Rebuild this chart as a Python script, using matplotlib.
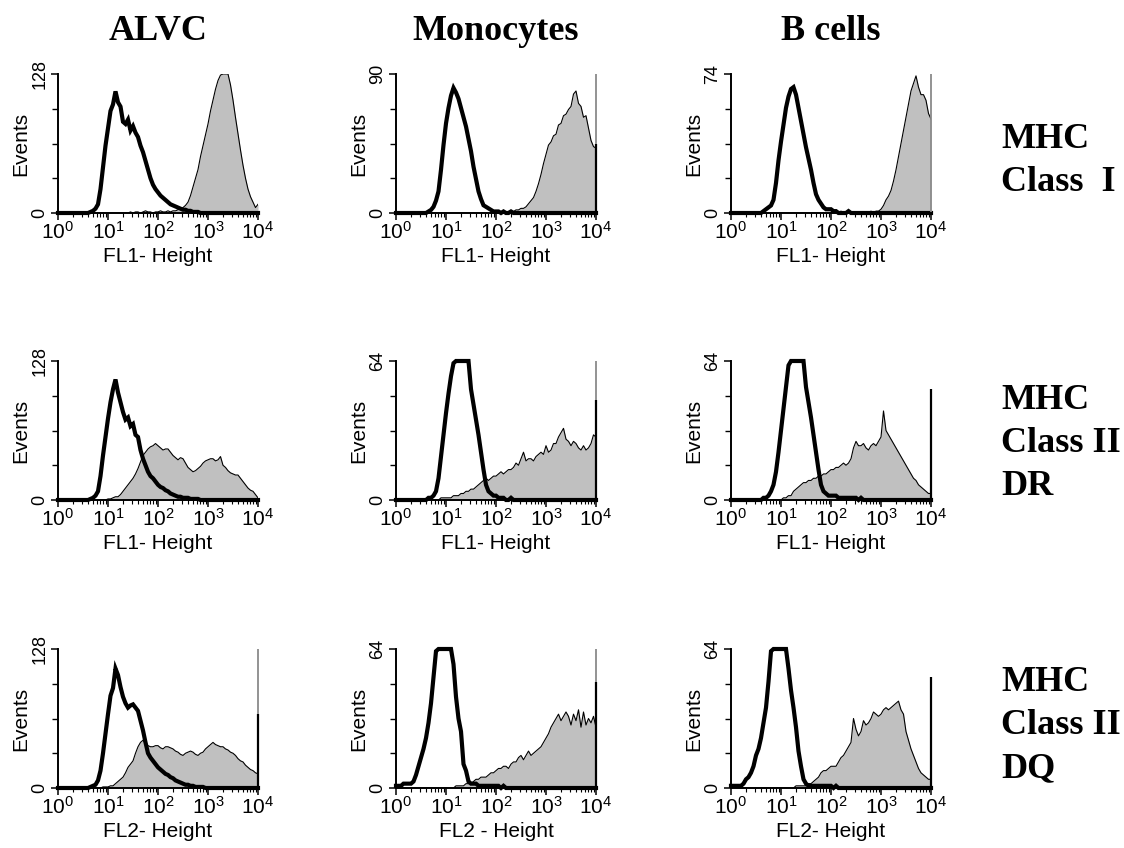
import numpy as np
import matplotlib
matplotlib.use("Agg")
import matplotlib.pyplot as plt
from matplotlib.ticker import FixedLocator, LogLocator, NullFormatter

plt.rcParams['font.family'] = 'Liberation Sans'
plt.rcParams['mathtext.fontset'] = 'custom'
plt.rcParams['mathtext.rm'] = 'Liberation Sans'
plt.rcParams['mathtext.it'] = 'Liberation Sans'
plt.rcParams['mathtext.bf'] = 'Liberation Sans:bold'

# histogram channels: 81 bins, 0.05 decade apart, from 10^0 to 10^4
channels = 10 ** (np.arange(81) * 0.05)

# --- row 1: MHC class I ---
alvc_mhc1_iso = ([0] * 10 +
    [0, 0, 0, 1, 2, 4, 8, 22, 42, 62] +
    [78, 94, 100, 112, 102, 98, 84, 82, 86, 76] +
    [80, 74, 70, 62, 56, 48, 40, 32, 26, 22] +
    [19, 16, 14, 12, 10, 8, 7, 6, 5, 4] +
    [3, 3, 2, 2, 1, 1, 1, 0, 0, 0] +
    [0] * 10 + [0] * 10 + [0])
alvc_mhc1_pos = ([0] * 10 + [0] * 10 +
    [0, 0, 0, 0, 0, 0, 0, 0, 0, 1] +
    [0, 1, 1, 0, 1, 2, 1, 1, 0, 1] +
    [1, 2, 1, 1, 2, 1, 2, 2, 3, 4] +
    [5, 7, 10, 16, 24, 32, 40, 52, 62, 72] +
    [82, 94, 104, 114, 122, 127, 130, 131, 128, 118] +
    [104, 88, 73, 58, 44, 32, 22, 15, 10, 5] +
    [8])

mono_mhc1_iso = ([0] * 10 +
    [0, 0, 0, 1, 2, 4, 8, 14, 28, 44] +
    [58, 68, 76, 81, 78, 74, 68, 62, 56, 48] +
    [40, 30, 22, 14, 9, 5, 4, 3, 2, 1] +
    [1, 1, 0, 1, 0, 0, 1, 0, 0, 0] +
    [0] * 10 + [0] * 10 + [0] * 10 + [0])
mono_mhc1_pos = ([0] * 10 + [0] * 10 + [0] * 10 + [0] * 10 +
    [0, 0, 0, 0, 0, 1, 1, 1, 2, 2] +
    [3, 3, 4, 6, 8, 10, 14, 19, 25, 32] +
    [38, 44, 46, 50, 51, 57, 58, 63, 64, 67] +
    [69, 77, 79, 71, 69, 62, 63, 55, 47, 43] +
    [42])

bcell_mhc1_iso = ([0] * 10 +
    [0, 0, 0, 1, 2, 3, 4, 7, 16, 28] +
    [38, 47, 56, 62, 66, 67, 63, 56, 49, 42] +
    [35, 29, 23, 16, 10, 7, 5, 3, 2, 2] +
    [2, 1, 1, 0, 0, 0, 0, 1, 0, 0] +
    [0] * 10 + [0] * 10 + [0] * 10 + [0])
bcell_mhc1_pos = ([0] * 10 + [0] * 10 + [0] * 10 + [0] * 10 +
    [0, 1, 0, 0, 1, 0, 0, 1, 0, 0] +
    [0, 0, 0, 0, 0, 0, 1, 0, 1, 1] +
    [2, 4, 7, 9, 12, 17, 23, 30, 37, 44] +
    [51, 58, 65, 69, 73, 67, 63, 63, 60, 53] +
    [50])

# --- row 2: MHC class II DR ---
alvc_dr_iso = ([0] * 10 +
    [0, 0, 0, 1, 2, 4, 8, 22, 41, 58] +
    [75, 90, 102, 111, 99, 90, 81, 74, 76, 68] +
    [70, 60, 58, 46, 38, 32, 26, 22, 20, 17] +
    [14, 12, 11, 9, 8, 6, 5, 4, 3, 3] +
    [2, 2, 2, 1, 1, 1, 1, 0, 0, 0] +
    [0] * 10 + [0] * 10 + [0])
alvc_dr_pos = ([0] * 10 + [0] * 10 +
    [1, 1, 2, 3, 3, 5, 8, 11, 14, 17] +
    [20, 24, 29, 35, 41, 44, 47, 49, 50, 52] +
    [50, 48, 46, 47, 47, 44, 41, 39, 37, 39] +
    [38, 34, 30, 28, 26, 27, 29, 31, 34, 36] +
    [37, 38, 38, 36, 37, 40, 32, 30, 27, 25] +
    [24, 23, 23, 20, 17, 14, 11, 9, 8, 5] +
    [2])

mono_dr_iso = ([0] * 10 +
    [0, 0, 0, 1, 1, 2, 4, 10, 20, 30] +
    [40, 49, 57, 63, 68, 70, 72, 71, 70, 67] +
    [51, 44, 37, 30, 22, 14, 7, 4, 3, 2] +
    [2, 1, 1, 1, 0, 0, 1, 0, 0, 0] +
    [0] * 10 + [0] * 10 + [0] * 10 + [0])
mono_dr_pos = ([0] * 10 +
    [0, 0, 0, 0, 0, 0, 0, 0, 1, 1] +
    [1, 1, 1, 2, 2, 2, 3, 3, 4, 4] +
    [5, 5, 6, 7, 8, 9, 10, 9, 10, 11] +
    [11, 12, 13, 12, 13, 14, 14, 15, 17, 16] +
    [19, 22, 18, 19, 19, 18, 20, 21, 22, 21] +
    [25, 22, 23, 26, 26, 29, 31, 33, 28, 27] +
    [25, 27, 26, 24, 23, 25, 23, 24, 26, 30] +
    [29])

bcell_dr_iso = ([0] * 10 +
    [0, 0, 0, 1, 1, 2, 4, 7, 13, 22] +
    [32, 42, 52, 62, 68, 70, 71, 70, 69, 67] +
    [52, 45, 38, 30, 22, 14, 7, 4, 3, 2] +
    [2, 2, 2, 1, 1, 1, 1, 1, 1, 1] +
    [1, 0, 1, 0, 0, 0, 0, 0, 0, 0] +
    [0] * 10 + [0] * 10 + [0])
bcell_dr_pos = ([0] * 10 + [0] * 10 +
    [0, 1, 1, 2, 2, 4, 5, 6, 7, 8] +
    [8, 9, 9, 10, 10, 11, 11, 12, 12, 13] +
    [14, 14, 15, 15, 16, 17, 16, 17, 19, 24] +
    [27, 25, 25, 26, 24, 23, 25, 26, 25, 27] +
    [29, 41, 32, 30, 28, 26, 24, 22, 20, 18] +
    [16, 14, 12, 10, 9, 7, 6, 5, 4, 3] +
    [3])

# --- row 3: MHC class II DQ ---
alvc_dq_iso = ([0] * 10 +
    [0, 0, 0, 1, 2, 3, 7, 16, 32, 50] +
    [68, 85, 92, 110, 104, 93, 84, 78, 74, 76] +
    [77, 74, 71, 62, 53, 42, 32, 28, 25, 22] +
    [19, 17, 15, 13, 12, 10, 9, 7, 6, 5] +
    [4, 3, 3, 2, 2, 1, 1, 1, 1, 0] +
    [0] * 10 + [0] * 10 + [0])
alvc_dq_pos = ([0] * 10 +
    [0, 0, 0, 0, 0, 0, 0, 0, 1, 1] +
    [1, 2, 2, 4, 6, 8, 10, 14, 19, 22] +
    [25, 32, 38, 42, 44, 41, 39, 38, 38, 39] +
    [39, 37, 36, 38, 38, 37, 36, 34, 33, 31] +
    [30, 32, 33, 34, 33, 31, 30, 32, 33, 36] +
    [38, 40, 42, 40, 39, 38, 38, 36, 35, 33] +
    [32, 30, 27, 25, 24, 21, 19, 17, 16, 14] +
    [13])

mono_dq_iso = ([1, 1, 1, 2, 2, 2, 2, 3, 6, 10] +
    [14, 18, 23, 30, 39, 51, 63, 70, 72, 72] +
    [72, 72, 70, 57, 42, 32, 26, 11, 8, 3] +
    [2, 2, 2, 1, 1, 1, 1, 1, 1, 1] +
    [1, 1, 0, 1, 0, 0, 0, 0, 0, 0] +
    [0] * 10 + [0] * 10 + [0] * 10 + [0])
mono_dq_pos = ([0] * 10 + [0] * 10 +
    [0, 0, 0, 0, 1, 1, 1, 1, 2, 2] +
    [2, 3, 4, 4, 5, 5, 5, 6, 7, 7] +
    [8, 9, 9, 10, 10, 9, 11, 12, 12, 14] +
    [15, 13, 15, 17, 15, 16, 17, 18, 19, 21] +
    [23, 25, 28, 30, 32, 34, 31, 33, 35, 33] +
    [29, 34, 31, 36, 28, 35, 29, 32, 30, 33] +
    [28])

bcell_dq_iso = ([1, 1, 1, 1, 1, 2, 4, 5, 7, 10] +
    [15, 18, 23, 30, 37, 49, 63, 70, 72, 72] +
    [72, 71, 70, 55, 45, 37, 28, 17, 10, 4] +
    [2, 1, 1, 1, 1, 1, 1, 1, 1, 1] +
    [1, 0, 1, 0, 0, 0, 0, 0, 0, 0] +
    [0] * 10 + [0] * 10 + [0] * 10 + [0])
bcell_dq_pos = ([0] * 10 + [0] * 10 +
    [0, 0, 0, 0, 0, 0, 1, 1, 1, 1] +
    [1, 2, 2, 3, 4, 5, 7, 8, 8, 9] +
    [10, 10, 10, 12, 14, 15, 17, 19, 21, 32] +
    [27, 24, 26, 31, 29, 30, 32, 35, 34, 33] +
    [34, 36, 37, 36, 37, 38, 39, 40, 36, 34] +
    [26, 22, 18, 15, 12, 9, 7, 6, 5, 4] +
    [4])

columns = ["ALVC", "Monocytes", "B cells"]
row_labels = ["MHC\nClass  I", "MHC\nClass II\nDR", "MHC\nClass II\nDQ"]
x_labels = [["FL1- Height", "FL1- Height", "FL1- Height"],
            ["FL1- Height", "FL1- Height", "FL1- Height"],
            ["FL2- Height", "FL2 - Height", "FL2- Height"]]
y_max = [[128, 90, 74], [128, 64, 64], [128, 64, 64]]
isotype = [[alvc_mhc1_iso, mono_mhc1_iso, bcell_mhc1_iso],
           [alvc_dr_iso, mono_dr_iso, bcell_dr_iso],
           [alvc_dq_iso, mono_dq_iso, bcell_dq_iso]]
stained = [[alvc_mhc1_pos, mono_mhc1_pos, bcell_mhc1_pos],
           [alvc_dr_pos, mono_dr_pos, bcell_dr_pos],
           [alvc_dq_pos, mono_dq_pos, bcell_dq_pos]]
# off-scale pile-up in the last channel
edge_gray = [[0, 90, 74], [0, 64, 0], [128, 64, 0]]
edge_black = [[0, 45, 0], [0, 46, 51], [68, 49, 51]]

fig = plt.figure(figsize=(11.24, 8.48), dpi=100)
W, H = 1124, 848
col_left = [58, 396, 731]
row_bottom = [213, 500, 788]

for r in range(3):
    for c in range(3):
        ax = fig.add_axes([col_left[c] / W, 1 - row_bottom[r] / H, 200 / W, 139 / H])
        top = y_max[r][c]
        pos = np.minimum(np.array(stained[r][c]), top)
        iso = np.minimum(np.array(isotype[r][c]), top)

        ax.fill_between(channels, pos, color='#c0c0c0', lw=0)
        ax.plot(channels, pos, color='black', lw=0.8)
        ax.plot(channels, iso, color='black', lw=3.0, clip_on=False,
                solid_joinstyle='miter')
        if edge_gray[r][c]:
            ax.vlines(1e4, 0, edge_gray[r][c], color='#8a8a8a', lw=1.3, clip_on=False)
        if edge_black[r][c]:
            ax.vlines(1e4, 0, edge_black[r][c], color='black', lw=1.6, clip_on=False)

        ax.set_xscale('log')
        ax.set_xlim(1, 1e4)
        ax.set_ylim(0, top)
        for s in ['top', 'right']:
            ax.spines[s].set_visible(False)
        for s in ['left', 'bottom']:
            ax.spines[s].set_linewidth(1.4)

        ax.xaxis.set_major_locator(LogLocator(base=10, numticks=10))
        ax.xaxis.set_minor_locator(LogLocator(base=10, subs=np.arange(2, 10), numticks=20))
        ax.xaxis.set_minor_formatter(NullFormatter())
        ax.tick_params(axis='x', which='major', direction='out', length=5, width=1.1,
                       labelsize=15, pad=1)
        ax.tick_params(axis='x', which='minor', direction='out', length=3, width=0.8)

        ax.set_yticks([0, top])
        ax.set_yticklabels(['0', str(top)], rotation=90, va='center')
        ax.yaxis.set_minor_locator(FixedLocator([top / 4, top / 2, 3 * top / 4]))
        ax.tick_params(axis='y', which='major', direction='out', length=5, width=1.1,
                       labelsize=13, pad=2)
        ax.tick_params(axis='y', which='minor', direction='out', length=4, width=1.0)

        ax.set_xlabel(x_labels[r][c], fontsize=15, labelpad=3)
        ax.set_ylabel("Events", fontsize=15, labelpad=1)

for c, name in enumerate(columns):
    fig.text((col_left[c] + 100) / W, 1 - 40 / H, name, ha='center', va='baseline',
             family='Liberation Serif', fontweight='bold', fontsize=26)

row_tops = [123, 384, 666]
for r, lab in enumerate(row_labels):
    fig.text(1001 / W, 1 - row_tops[r] / H, lab, ha='left', va='top',
             family='Liberation Serif', fontweight='bold', fontsize=26,
             linespacing=1.4)

fig.savefig("out.png", dpi=100)
